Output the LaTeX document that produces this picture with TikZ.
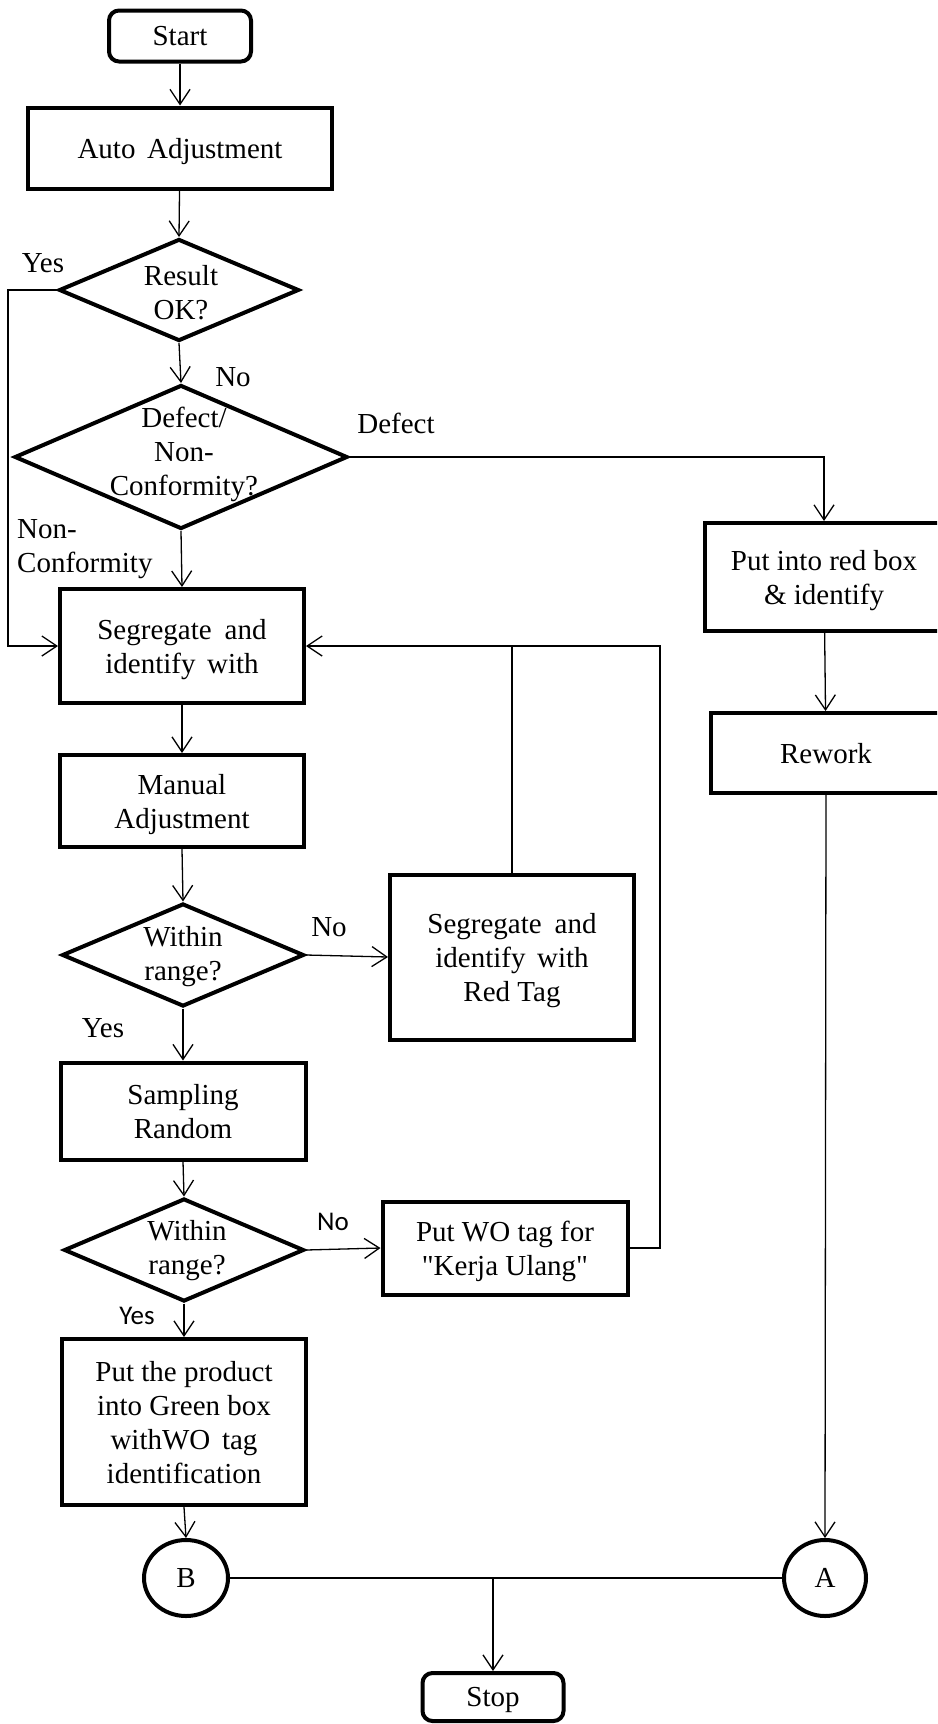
\documentclass[tikz,border=0pt]{standalone}
\usepackage{fontspec}
\setmainfont{Liberation Serif}
\newfontfamily\qfont[Ligatures=TeXOff]{Liberation Serif}
\newfontfamily\labsans{Carlito}
\newcommand{\sq}{{\qfont"}}
\usetikzlibrary{shapes.geometric,arrows.meta}
\begin{document}
\begin{tikzpicture}[x=1pt,y=-1pt,
  every node/.style={font=\fontsize{29}{34}\selectfont},
  box/.style={draw, line width=4pt, rectangle, inner sep=0pt, align=center, text depth=0pt},
  term/.style={box, rounded corners=10pt},
  decide/.style={draw, line width=4pt, diamond, inner sep=0pt},
  conn/.style={draw, line width=4pt, ellipse, inner sep=0pt},
  arr/.style={-{Straight Barb[length=15pt,width=20pt]}, line width=1.3pt},
  line/.style={line width=1.3pt},
  lab/.style={inner sep=0pt, align=center},
  sanslab/.style={inner sep=0pt, font=\labsans\fontsize{27}{32}\selectfont}]

\useasboundingbox (0,0) rectangle (937,1724);
\clip (0,0) rectangle (937,1724);

% terminals
\node[term, minimum width=142, minimum height=51] (start) at (180,36) {Start};
\node[term, minimum width=141, minimum height=48] (stop) at (493,1697) {Stop};

% process boxes
\node[box, minimum width=304, minimum height=81] (auto) at (180,148) {Auto\hspace{0.4em}Adjustment};
\node[box, minimum width=244, minimum height=114] (seg) at (182,646) {Segregate\hspace{0.45em}and\\identify\hspace{0.4em}with};
\node[box, minimum width=244, minimum height=92] (manual) at (182,801) {Manual\\Adjustment};
\node[box, minimum width=244, minimum height=165] (redtag) at (512,957) {Segregate\hspace{0.45em}and\\identify\hspace{0.4em}with\\Red Tag};
\node[box, minimum width=245, minimum height=97] (sampling) at (183,1111) {Sampling\\Random};
\node[box, minimum width=245, minimum height=93] (putwo) at (505,1248) {Put WO tag for\\\sq Kerja Ulang\sq};
\node[box, minimum width=244, minimum height=166] (green) at (184,1422) {Put the product\\into Green box\\withWO\hspace{0.4em}tag\\identification};
\node[box, minimum width=238, minimum height=108] (redbox) at (824,577) {Put into red box\\\& identify};
\node[box, minimum width=230, minimum height=80] (rework) at (826,753) {Rework};

% decisions
\node[decide, minimum width=240, minimum height=102] (d1) at (179,290) {};
\node[lab] (d1t) at (181,293) {Result\\OK?};
\node[decide, minimum width=333, minimum height=144] (d2) at (181,457) {};
\node[lab] (d2t) at (184,454) {Defect/\\Non-\\Conformity?};
\node[decide, minimum width=242, minimum height=103] (d3) at (183,955) {};
\node[lab] (d3t) at (183,957) {Within\\range?};
\node[decide, minimum width=240, minimum height=103] (d4) at (184,1250) {};
\node[lab] (d4t) at (187,1251) {Within\\range?};

% connectors
\node[conn, minimum width=84, minimum height=76] (B) at (186,1578) {B};
\node[conn, minimum width=82, minimum height=76] (A) at (825,1578) {A};

% branch labels
\node[lab] (yes1) at (43,263) {Yes};
\node[lab] (no1) at (233,377) {No};
\node[lab] (defect) at (396,423) {Defect};
\node[lab, anchor=west, align=left] (nonconf) at (17,549) {Non-\\Conformity};
\node[lab] (no2) at (329,927) {No};
\node[lab] (yes2) at (103,1028) {Yes};
\node[sanslab] (no3) at (333,1222) {No};
\node[sanslab] (yes3) at (137,1316) {Yes};

% flow
\draw[arr] (start) -- (auto);
\draw[arr] (auto) -- (d1.north);
\draw[arr] (d1.south) -- (d2.north);
\draw[arr] (d1.west) -- ++(-49,0) |- (seg.west);
\draw[arr] (d2.east) -| (redbox.north);
\draw[arr] (d2.south) -- (seg.north);
\draw[arr] (redbox) -- (rework);
\draw[arr] (rework.south) -- (A.north);
\draw[arr] (seg) -- (manual);
\draw[arr] (manual.south) -- (d3.north);
\draw[arr] (d3.east) -- (redtag.west);
\draw[arr] (d3.south) -- (sampling.north);
\draw[arr] (sampling.south) -- (d4.north);
\draw[arr] (d4.east) -- (putwo.west);
\draw[arr] (d4.south) -- (green.north);
\draw[arr] (green.south) -- (B.north);

% rework loops back to segregation
\coordinate (loopR) at (660,646);
\draw[arr] (putwo.east) -| (loopR) -- (seg.east);
\draw[line] (redtag.north) -- (redtag.north |- seg.east);

% merge to stop
\coordinate (merge) at (493,1578);
\draw[line] (B.east) -- (A.west);
\draw[arr] (merge) -- (stop.north);
\end{tikzpicture}
\end{document}
